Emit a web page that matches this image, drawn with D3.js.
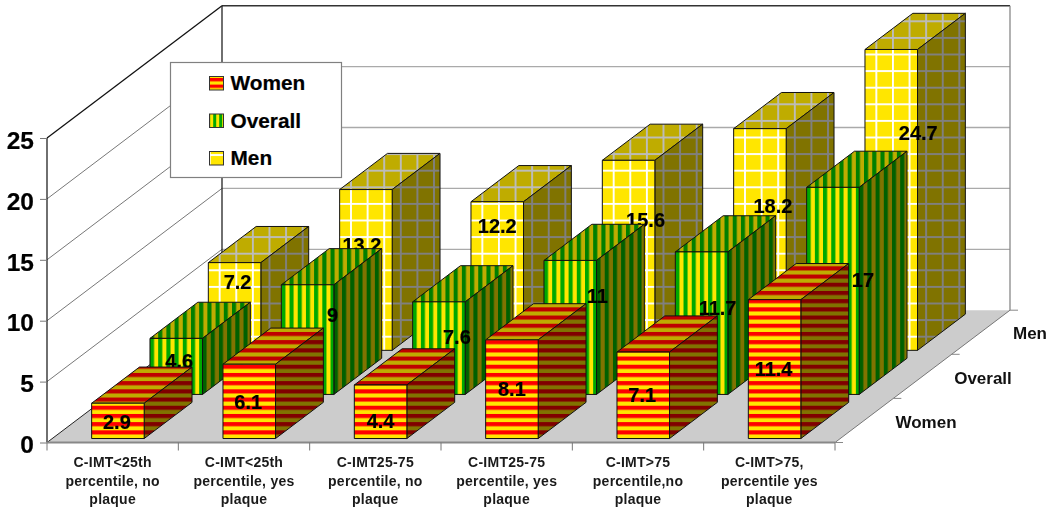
<!DOCTYPE html>
<html><head><meta charset="utf-8">
<script src="https://cdn.jsdelivr.net/npm/d3@7/dist/d3.min.js"></script>
<style>
html,body{margin:0;padding:0;background:#fff}
svg{display:block;filter:blur(0.35px)}
text{font-family:"Liberation Sans",Arial,sans-serif;font-weight:bold;fill:#000;stroke:#000;stroke-width:0.2px}
</style></head><body>
<svg id="c" width="1050" height="515"></svg>
<script>
// ---- data ----
const categories = ["C-IMT<25th|percentile, no|plaque","C-IMT<25th|percentile, yes|plaque","C-IMT25-75|percentile, no|plaque","C-IMT25-75|percentile, yes|plaque","C-IMT>75|percentile,no|plaque","C-IMT>75,|percentile yes|plaque"];
const seriesNames = ["Women","Overall","Men"];
const women   = [2.9,6.1,4.4,8.1,7.1,11.4];
const overall = [4.6,9,7.6,11,11.7,17];
const men     = [7.2,13.2,12.2,15.6,18.2,24.7];
const yTicks  = [0,5,10,15,20,25];

// ---- layout ----
const svg = d3.select("#c"), defs = svg.append("defs");
const frontL=47, frontR=835, baseY=442.5, topY=138, backDx=175, backDy=-132.3;
const x = d3.scaleBand().domain(categories).range([frontL,frontR]).paddingInner(0.6).paddingOuter(0.3);
const y = d3.scaleLinear().domain([0,25]).range([baseY,topY]);
const zPos = d3.scaleLinear().domain([0,3]).range([0,1]);
const project=(px,py,z)=>[px+backDx*zPos(z),py+backDy*zPos(z)];
const P=a=>a.map(p=>p.join(",")).join(" ");
const line=(g,a,b,stroke,w)=>g.append("line").attr("x1",a[0]).attr("y1",a[1]).attr("x2",b[0]).attr("y2",b[1]).attr("stroke",stroke).attr("stroke-width",w);

// walls, floor
const wall=svg.append("g");
wall.append("polygon").attr("fill","#ccc")
  .attr("points",P([[frontL,baseY],[frontR,baseY],project(frontR,baseY,3),project(frontL,baseY,3)]));
yTicks.forEach(t=>{
  const a=[frontL,y(t)],b=project(frontL,y(t),3),c=project(frontR,y(t),3);
  if(t>0){line(wall,a,b,t===25?"#111":"#777",t===25?1.3:1);
  line(wall,b,c,t===25?"#333":"#aaa",t===25?1.4:1.3);}
});
line(wall,[frontL,baseY],project(frontL,baseY,3),"#222",1);
line(wall,[frontL,y(0)],[frontL,y(25)],"#222",1.3);
line(wall,project(frontL,y(0),3),project(frontL,y(25),3),"#222",1.3);
line(wall,project(frontR,y(0),3),project(frontR,y(25),3),"#888",1.3);
line(wall,[frontR,baseY],project(frontR,baseY,3),"#777",1);

// axes
const yAxis=d3.axisLeft(y).tickValues(yTicks).tickSize(7).tickPadding(6);
const gy=svg.append("g").attr("transform",`translate(${frontL},0)`).call(yAxis);
gy.select(".domain").remove();
gy.selectAll("line").attr("stroke","#777");
gy.selectAll("text").style("font-size","24.5px").attr("dy","0.42em").attr("text-anchor","end");

const xEdge=d3.scaleLinear().domain([0,6]).range([frontL,frontR]);
const gx=svg.append("g");
line(gx,[frontL,baseY],[frontR,baseY],"#888",2);
d3.range(7).forEach(i=>line(gx,[xEdge(i),baseY],[xEdge(i),baseY+8],"#777",1));
categories.forEach((c,i)=>{
  const t=gx.append("text").attr("text-anchor","middle").style("font-size","14px").style("letter-spacing","0.25px").style("fill","#1a1a1a").style("stroke","none");
  c.split("|").forEach((s,j)=>t.append("tspan").attr("x",(xEdge(i)+xEdge(i+1))/2).attr("y",467+j*18.5).text(s));
});
// depth axis
d3.range(4).forEach(i=>{const p=project(frontR,baseY,i);line(svg,p,[p[0]+8,p[1]],"#888",1);});
const zLabelAt=[[926,428],[983,384],[1030,339]];
seriesNames.forEach((s,i)=>svg.append("text").attr("x",zLabelAt[i][0]).attr("y",zLabelAt[i][1]).attr("text-anchor","middle").style("font-size","17px").style("fill","#111").style("stroke","none").text(s));

// patterns
const faceColors={
  Women:{front:["#fe0000","#ffe600"],top:["#bf0000","#bfac00"],side:["#800000","#807300"]},
  Overall:{front:["#00a800","#ffe600"],top:["#007f00","#bfac00"],side:["#006000","#807300"]},
  Men:{front:["#ffe600","#ffffff"],top:["#bfac00","#bcbcbc"],side:["#807300","#808080"]}
};
function makePattern(id,kind,cols,ax,ay,period){
  const p=defs.append("pattern").attr("id",id).attr("patternUnits","userSpaceOnUse");
  if(kind==="Women"){
    const k=period||8.2;
    p.attr("width",20).attr("height",k).attr("patternTransform",`translate(${ax},${ay})`);
    p.append("rect").attr("width",20).attr("height",k).attr("fill",cols[1]);
    p.append("rect").attr("width",20).attr("height",k/2).attr("fill",cols[0]);
  }else if(kind==="Overall"){
    const k=period||8.2;
    p.attr("width",k).attr("height",20).attr("patternTransform",`translate(${ax},${ay})`);
    p.append("rect").attr("width",k).attr("height",20).attr("fill",cols[1]);
    p.append("rect").attr("width",k/2).attr("height",20).attr("fill",cols[0]);
  }else{
    p.attr("width",16.6).attr("height",16.6).attr("patternTransform",`translate(${ax+10.4},${ay+2})`);
    p.append("rect").attr("width",16.6).attr("height",16.6).attr("fill",cols[0]);
    p.append("rect").attr("width",1.9).attr("height",16.6).attr("fill",cols[1]);
    p.append("rect").attr("width",16.6).attr("height",1.9).attr("fill",cols[1]);
  }
}

// bars, back to front; value labels are nudged from the face centre
const labelDx={Women:[-1,-1,0,0,-1,-1],Overall:[3,25,18,27,16,30],Men:[3,-4,0,17,13,27]};
const labelDy={Women:[1,1,9,0,0,0],Overall:[-5,-25,-11,-31,-15,-11],Men:[-24,-25,-50,-35,-33,-67]};
const valuesBy={Women:women,Overall:overall,Men:men};
const barInset=0.09; // bar occupies the middle of its depth slot
[2,1,0].forEach(si=>{
  const name=seriesNames[si], vals=valuesBy[name];
  const g=svg.append("g").attr("class","series");
  categories.forEach((c,i)=>{
    const left=x(c), w=x.bandwidth(), v=vals[i];
    const z0=si+barInset, z1=si+1-barInset;
    const a=project(left,baseY,z0), e=project(left,baseY,z1);
    const h=baseY-y(v);
    const fx=a[0], fb=a[1], ft=fb-h, fr=fx+w;
    const dx=e[0]-a[0], dy=e[1]-a[1];
    ["front","top","side"].forEach(f=>makePattern(`p${si}${i}${f}`,name,faceColors[name][f],(name==="Overall"&&f==="side")?fr:fx,fb));
    const face=(pts,f)=>g.append("polygon").attr("points",P(pts)).attr("fill",`url(#p${si}${i}${f})`).attr("stroke","#111").attr("stroke-width",1).attr("stroke-linejoin","round");
    face([[fx,ft],[fr,ft],[fr+dx,ft+dy],[fx+dx,ft+dy]],"top");
    face([[fr,ft],[fr+dx,ft+dy],[fr+dx,fb+dy],[fr,fb]],"side");
    face([[fx,ft],[fr,ft],[fr,fb],[fx,fb]],"front");
    g.append("text").attr("text-anchor","middle").style("font-size","20px")
      .attr("x",fx+w/2+labelDx[name][i]).attr("y",(ft+fb)/2+labelDy[name][i]+7).text(v);
  });
});

// legend
const lg=svg.append("g").attr("transform","translate(170.5,62.5)");
lg.append("rect").attr("width",171).attr("height",115).attr("fill","#fff").attr("stroke","#808080").attr("stroke-width",1.2);
const legendAnchor=[[209.5,81.5,6.6],[210.7,76,6],[210.5,156,0]];
seriesNames.forEach((s,i)=>{
  const yy=14+i*37.5, la=legendAnchor[i];
  makePattern("leg"+i,s,faceColors[s].front,la[0],la[1],la[2]);
  lg.append("rect").attr("x",39).attr("y",yy).attr("width",14).attr("height",13.5).attr("fill",`url(#leg${i})`).attr("stroke","#333").attr("stroke-width",1);
  lg.append("text").attr("x",60).attr("y",yy+13.5).style("font-size","20.8px").text(s);
});
</script></body></html>
